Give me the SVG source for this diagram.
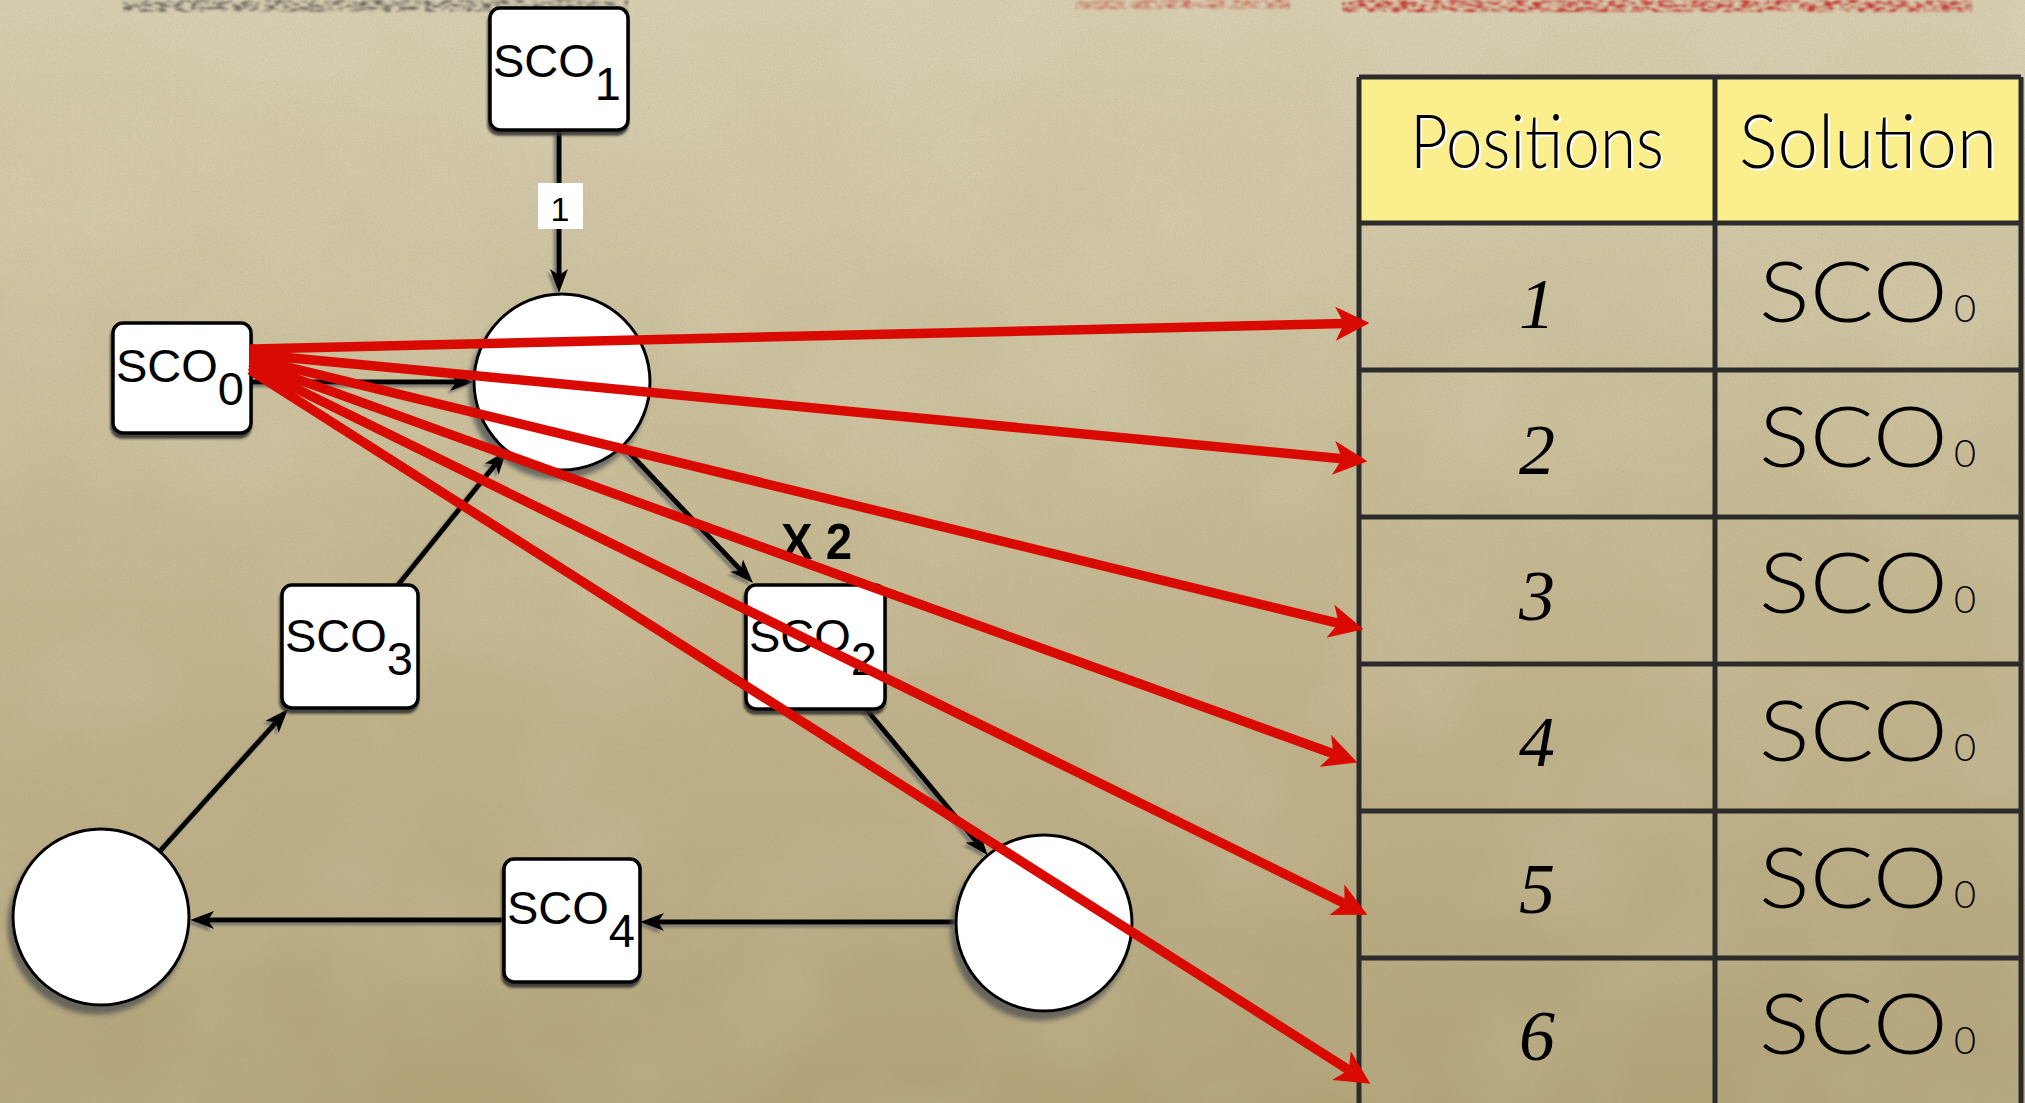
<svg xmlns="http://www.w3.org/2000/svg" width="2025" height="1103" viewBox="0 0 2025 1103">
  <defs>
    <linearGradient id="paper" x1="0" y1="0" x2="0" y2="1">
      <stop offset="0" stop-color="#d6cdb0"/>
      <stop offset="0.45" stop-color="#c6ba94"/>
      <stop offset="1" stop-color="#b2a379"/>
    </linearGradient>
    <filter id="grain" x="0" y="0" width="100%" height="100%">
      <feTurbulence type="fractalNoise" baseFrequency="0.85" numOctaves="3" seed="4" result="n"/>
      <feColorMatrix in="n" type="matrix" values="0 0 0 0 0.35  0 0 0 0 0.29  0 0 0 0 0.17  0.7 0 0 0 -0.3"/>
    </filter>
    <filter id="blotch" x="0" y="0" width="100%" height="100%">
      <feTurbulence type="fractalNoise" baseFrequency="0.006" numOctaves="3" seed="9" result="n"/>
      <feColorMatrix in="n" type="matrix" values="0 0 0 0 0.95  0 0 0 0 0.92  0 0 0 0 0.82  0.9 0 0 0 -0.35"/>
    </filter>
    <filter id="boxShadow" x="-10%" y="-10%" width="125%" height="130%">
      <feDropShadow dx="-1" dy="4" stdDeviation="1.2" flood-color="#2e2e2e" flood-opacity="0.85"/>
    </filter>
    <filter id="circShadow" x="-15%" y="-15%" width="130%" height="135%">
      <feDropShadow dx="-4" dy="8" stdDeviation="2.5" flood-color="#555" flood-opacity="0.8"/>
    </filter>
    <filter id="lineShadow" x="-5%" y="-5%" width="110%" height="110%">
      <feDropShadow dx="-3" dy="3" stdDeviation="1" flood-color="#666" flood-opacity="0.7"/>
    </filter>
    <!-- broken, soft strokes for the clipped title line -->
    <filter id="fragment" x="-5%" y="-100%" width="110%" height="300%">
      <feTurbulence type="fractalNoise" baseFrequency="0.12 0.4" numOctaves="2" seed="3" result="n"/>
      <feColorMatrix in="n" type="matrix" values="0 0 0 0 0  0 0 0 0 0  0 0 0 0 0  3 0 0 0 -1.2" result="mask"/>
      <feComposite in="SourceGraphic" in2="mask" operator="in" result="cut"/>
      <feGaussianBlur in="cut" stdDeviation="1.2"/>
    </filter>
    <marker id="redHead" viewBox="0 0 32 32" refX="8" refY="16" markerWidth="34" markerHeight="34" markerUnits="userSpaceOnUse" orient="auto">
      <path d="M0,0 L32,16 L0,32 L8,16 Z" fill="#d90a02"/>
    </marker>
    <marker id="blackHead" viewBox="0 0 24 18" refX="6" refY="9" markerWidth="24" markerHeight="18" markerUnits="userSpaceOnUse" orient="auto">
      <path d="M0,0 L24,9 L0,18 L6,9 Z" fill="#000"/>
    </marker>
    <style>
      .box { fill: #fff; stroke: #000; stroke-width: 3.5; filter: url(#boxShadow); }
      .circ { fill: #fff; stroke: #000; stroke-width: 3; filter: url(#circShadow); }
      .lbl { font-family: "Liberation Sans", Arial, sans-serif; font-size: 47px; fill: #000; }
      .conn { stroke: #000; stroke-width: 5; fill: none; marker-end: url(#blackHead); }
      .red { stroke: #d90a02; stroke-width: 9.5; fill: none; marker-end: url(#redHead); }
      .grid { stroke: #2b2b2b; stroke-width: 5; fill: none; }
      .head { font-family: "Lato", "Open Sans", sans-serif; font-weight: 300; font-size: 74px; text-anchor: middle; }
      .num { font-family: "Liberation Serif", "Times New Roman", serif; font-style: italic; font-size: 72px; fill: #000; text-anchor: middle; }
      .sol { font-family: "Lato", "Open Sans", sans-serif; font-weight: 300; font-size: 84px; fill: #000; }
      .solsub { font-size: 38px; }
    </style>
  </defs>

  <!-- paper background -->
  <rect width="2025" height="1103" fill="url(#paper)"/>
  <rect width="2025" height="1103" filter="url(#blotch)" opacity="0.25"/>
  <rect width="2025" height="1103" filter="url(#grain)" opacity="0.6"/>

  <!-- remnants of the slide title, cut off at the top edge -->
  <g filter="url(#fragment)">
    <rect x="123" y="0" width="505" height="12" fill="#5f5c56"/>
    <rect x="1075" y="0" width="215" height="9" fill="#c0201a" opacity="0.6"/>
    <rect x="1342" y="0" width="630" height="12" fill="#c0201a"/>
  </g>

  <!-- results table -->
  <g id="table">
    <rect x="1359" y="77" width="662" height="146" fill="#faef8c"/>
    <path class="grid" d="M1359,77 H2021 M1359,223 H2021 M1359,370 H2021 M1359,517 H2021 M1359,664 H2021 M1359,811 H2021 M1359,958 H2021 M1359,77 V1103 M1715,77 V1103 M2021,77 V1103"/>
    <g id="table-head">
      <text class="head" x="1539" y="170" fill="#fff" textLength="254" lengthAdjust="spacingAndGlyphs">Positions</text>
      <text class="head" x="1537" y="168" fill="#000" textLength="254" lengthAdjust="spacingAndGlyphs">Positions</text>
      <text class="head" x="1870" y="170" fill="#fff" textLength="258" lengthAdjust="spacingAndGlyphs">Solution</text>
      <text class="head" x="1868" y="168" fill="#000" textLength="258" lengthAdjust="spacingAndGlyphs">Solution</text>
    </g>
    <g id="table-positions">
      <text class="num" x="1537" y="328">1</text>
      <text class="num" x="1537" y="474">2</text>
      <text class="num" x="1537" y="620">3</text>
      <text class="num" x="1537" y="766">4</text>
      <text class="num" x="1537" y="913">5</text>
      <text class="num" x="1537" y="1060">6</text>
    </g>
    <g id="table-solutions">
      <text class="sol" x="1759" y="322"><tspan textLength="189" lengthAdjust="spacingAndGlyphs">SCO</tspan><tspan class="solsub" x="1954">0</tspan></text>
      <text class="sol" x="1759" y="467"><tspan textLength="189" lengthAdjust="spacingAndGlyphs">SCO</tspan><tspan class="solsub" x="1954">0</tspan></text>
      <text class="sol" x="1759" y="613"><tspan textLength="189" lengthAdjust="spacingAndGlyphs">SCO</tspan><tspan class="solsub" x="1954">0</tspan></text>
      <text class="sol" x="1759" y="761"><tspan textLength="189" lengthAdjust="spacingAndGlyphs">SCO</tspan><tspan class="solsub" x="1954">0</tspan></text>
      <text class="sol" x="1759" y="908"><tspan textLength="189" lengthAdjust="spacingAndGlyphs">SCO</tspan><tspan class="solsub" x="1954">0</tspan></text>
      <text class="sol" x="1759" y="1054"><tspan textLength="189" lengthAdjust="spacingAndGlyphs">SCO</tspan><tspan class="solsub" x="1954">0</tspan></text>
    </g>
  </g>

  <!-- net connectors -->
  <g id="connectors" filter="url(#lineShadow)">
    <line class="conn" x1="559" y1="130" x2="559" y2="275"/>
    <line class="conn" x1="251" y1="382" x2="456" y2="382"/>
    <line class="conn" x1="398" y1="585" x2="495.4" y2="464.4"/>
    <line class="conn" x1="622.7" y1="445.8" x2="740.6" y2="570"/>
    <line class="conn" x1="866" y1="709" x2="976.2" y2="841.5"/>
    <line class="conn" x1="956" y1="922" x2="658" y2="922"/>
    <line class="conn" x1="504" y1="920" x2="208" y2="920"/>
    <line class="conn" x1="159.7" y1="851.4" x2="276" y2="722.4"/>
  </g>
  <g id="weight-1">
    <rect x="538" y="183" width="45" height="46" fill="#fff"/>
    <text x="560" y="221" font-family="Liberation Sans, Arial, sans-serif" font-size="34" text-anchor="middle">1</text>
  </g>
  <text id="weight-x2" x="781" y="559" font-family="Liberation Sans, Arial, sans-serif" font-weight="bold" font-size="50" textLength="71" lengthAdjust="spacingAndGlyphs">X 2</text>

  <!-- places -->
  <g id="place-top"><circle class="circ" cx="562" cy="382" r="88"/></g>
  <g id="place-left"><circle class="circ" cx="101" cy="917" r="88"/></g>
  <g id="place-right"><circle class="circ" cx="1044" cy="923" r="88"/></g>

  <!-- transitions -->
  <g id="sco1">
    <rect class="box" x="490" y="8" width="138" height="122" rx="10"/>
    <text class="lbl" x="493" y="77">SCO<tspan dy="23">1</tspan></text>
  </g>
  <g id="sco0">
    <rect class="box" x="113" y="323" width="138" height="110" rx="10"/>
    <text class="lbl" x="116" y="382">SCO<tspan dy="23">0</tspan></text>
  </g>
  <g id="sco3">
    <rect class="box" x="282" y="585" width="136" height="123" rx="10"/>
    <text class="lbl" x="285" y="652">SCO<tspan dy="23">3</tspan></text>
  </g>
  <g id="sco2">
    <rect class="box" x="746" y="585" width="139" height="124" rx="10"/>
    <text class="lbl" x="749" y="652">SCO<tspan dy="23">2</tspan></text>
  </g>
  <g id="sco4">
    <rect class="box" x="504" y="859" width="136" height="123" rx="10"/>
    <text class="lbl" x="507" y="924">SCO<tspan dy="23">4</tspan></text>
  </g>

  <!-- SCO0 fired at every position -->
  <g id="position-arrows">
    <line class="red" x1="250" y1="349" x2="1344" y2="323.6"/>
    <line class="red" x1="250" y1="354" x2="1342.1" y2="458.7"/>
    <line class="red" x1="250" y1="358" x2="1338.7" y2="623.3"/>
    <line class="red" x1="250" y1="362" x2="1333.4" y2="753.8"/>
    <line class="red" x1="250" y1="366" x2="1344.5" y2="903.4"/>
    <line class="red" x1="250" y1="370" x2="1348.8" y2="1070.1"/>
  </g>
</svg>
